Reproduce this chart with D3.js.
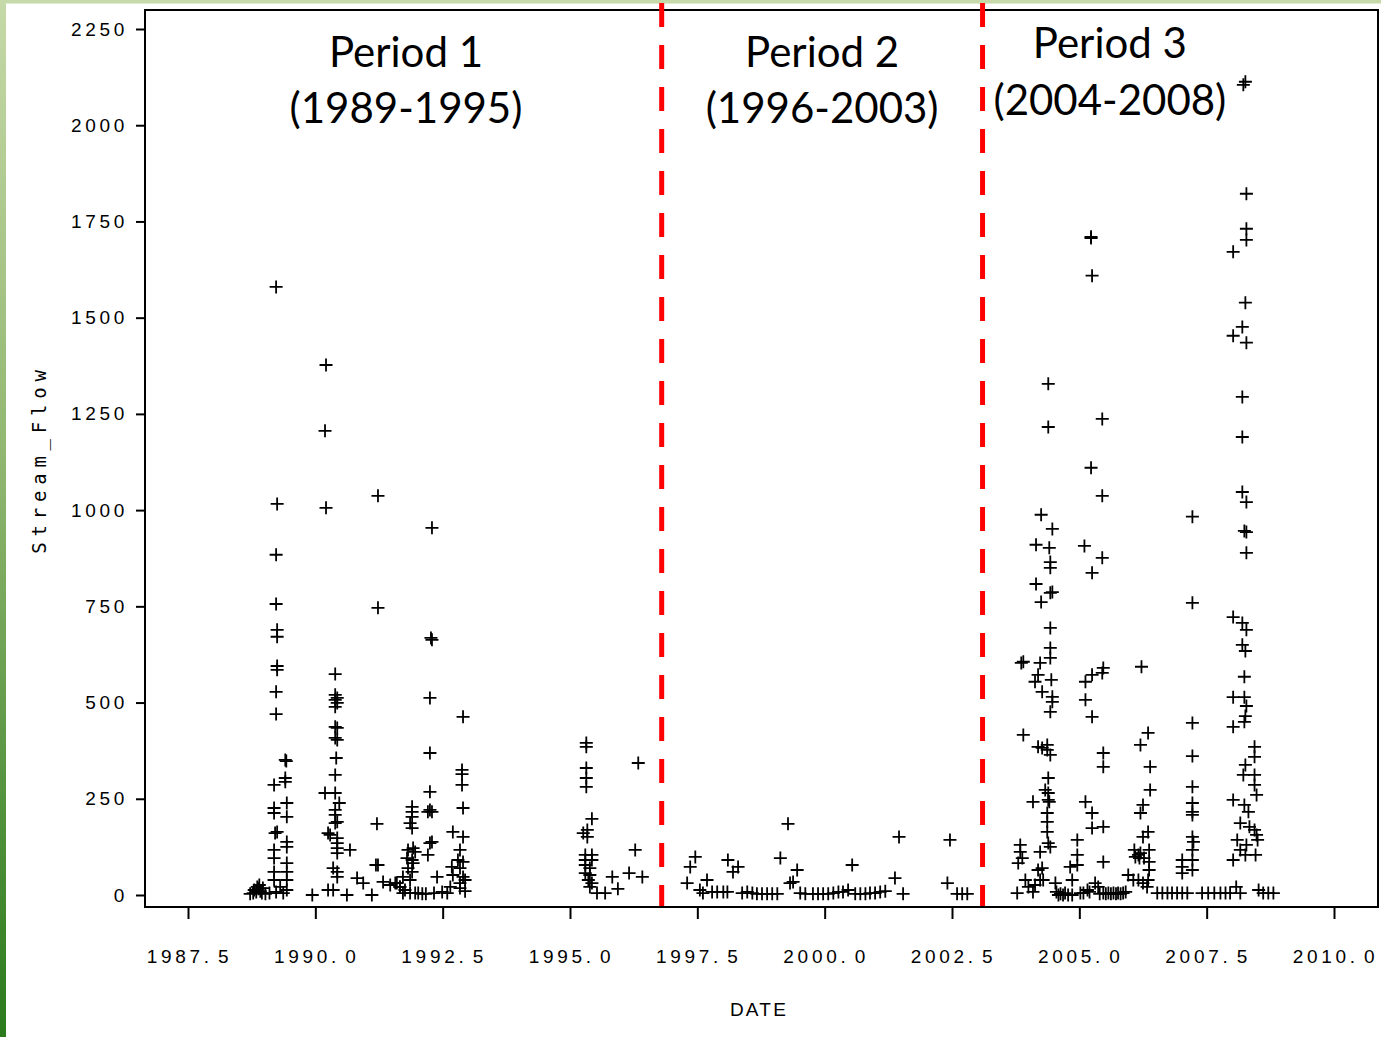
<!DOCTYPE html>
<html><head><meta charset="utf-8">
<script src="https://cdn.jsdelivr.net/npm/d3@7"></script>
<style>
html,body{margin:0;padding:0;background:#fff;}
svg{display:block;}
</style></head>
<body>
<script>
// ---- data ----
const xTicks = [1987.5, 1990.0, 1992.5, 1995.0, 1997.5, 2000.0, 2002.5, 2005.0, 2007.5, 2010.0];
const xTickLabels = ["1987.5","1990.0","1992.5","1995.0","1997.5","2000.0","2002.5","2005.0","2007.5","2010.0"];
const yTicks = [0, 250, 500, 750, 1000, 1250, 1500, 1750, 2000, 2250];
const periodBreaks = [1996.8, 2003.1];
const periodNames = ["Period 1", "Period 2", "Period 3"];
const periodYears = ["(1989-1995)", "(1996-2003)", "(2004-2008)"];
const periodCenters = [1991.78, 1999.95, 2005.6];

const period1Flow = [
 [1988.72,3],[1988.78,5],[1988.80,13],[1988.84,8],[1988.86,21],[1988.88,16],[1988.90,26],[1988.92,10],[1988.95,5],[1988.97,18],[1989.02,3],[1989.10,5],
 [1989.23,1580],[1989.25,1016],[1989.23,884],[1989.23,756],[1989.25,689],[1989.25,671],[1989.25,595],[1989.25,585],[1989.23,528],[1989.23,470],
 [1989.41,351],[1989.43,348],[1989.41,304],[1989.41,294],[1989.19,286],[1989.44,239],[1989.19,226],[1989.19,213],[1989.44,203],[1989.21,161],[1989.25,164],
 [1989.44,138],[1989.44,125],[1989.19,117],[1989.19,96],[1989.44,83],[1989.19,60],[1989.44,60],[1989.19,39],[1989.31,21],[1989.44,39],[1989.23,8],[1989.37,5],[1989.44,13],
 [1989.94,0],[1990.19,1206],[1990.21,1377],[1990.21,1006],[1990.39,574],[1990.39,520],[1990.43,512],[1990.39,507],[1990.43,499],[1990.39,489],
 [1990.39,437],[1990.43,434],[1990.39,408],[1990.43,403],[1990.41,356],[1990.39,312],[1990.19,265],[1990.39,265],[1990.47,239],[1990.39,221],[1990.39,208],
 [1990.43,190],[1990.39,187],[1990.25,161],[1990.29,156],[1990.43,148],[1990.43,135],[1990.43,122],[1990.43,109],[1990.68,117],[1990.35,70],[1990.43,60],
 [1990.43,47],[1990.25,13],[1990.35,13],[1990.62,0],
 [1991.23,1037],[1991.23,746],[1991.21,185],[1991.19,78],[1991.23,78],[1990.82,44],[1990.94,31],[1991.11,0],[1991.33,34],[1991.47,26],[1991.57,31],[1991.66,21],[1991.72,5],[1991.86,5],
 [1991.90,229],[1991.90,216],[1991.90,203],[1991.86,187],[1991.90,174],[1991.82,117],[1991.92,122],[1991.96,112],[1991.80,96],[1991.90,91],[1991.92,83],
 [1991.82,70],[1991.90,60],[1991.72,47],[1991.86,39],[1991.60,31],[1991.66,21],[1991.76,13],[1991.96,5],[1992.02,5],[1992.10,3],
 [1992.29,954],[1992.27,668],[1992.29,663],[1992.25,512],[1992.25,369],[1992.25,268],[1992.25,221],[1992.21,216],[1992.29,216],[1992.29,138],[1992.25,135],
 [1992.21,104],[1992.39,47],[1992.33,5],[1992.17,3],
 [1992.90,463],[1992.88,325],[1992.88,314],[1992.88,286],[1992.90,226],[1992.70,164],[1992.90,151],[1992.84,117],[1992.80,91],[1992.90,86],[1992.68,73],
 [1992.84,70],[1992.70,52],[1992.90,47],[1992.84,31],[1992.94,39],[1992.65,21],[1992.84,18],[1992.49,8],[1992.59,5],[1992.94,10],
 [1995.32,395],[1995.32,385],[1995.32,330],[1995.32,304],[1995.32,281],[1995.43,198],[1995.34,169],[1995.26,161],[1995.34,151],[1995.30,104],[1995.43,104],
 [1995.30,91],[1995.43,91],[1995.30,78],[1995.39,70],[1995.30,57],[1995.39,52],[1995.36,39],[1995.43,31],[1995.39,21],[1995.53,5],[1995.69,5],
 [1995.83,47],[1995.94,16],[1996.16,57],[1996.28,117],[1996.34,343],[1996.42,47]
];

const period2Flow = [
 [1997.30,31],[1997.36,73],[1997.46,99],[1997.55,13],[1997.61,5],[1997.69,39],[1997.79,8],[1997.89,8],[1998.01,8],[1998.09,8],[1998.10,91],[1998.20,60],
 [1998.30,73],[1998.38,5],[1998.48,8],[1998.58,5],[1998.67,3],[1998.77,3],[1998.87,3],[1998.97,3],[1999.07,3],[1999.13,96],[1999.28,185],[1999.32,31],
 [1999.38,34],[1999.46,65],[1999.52,5],[1999.62,3],[1999.77,3],[1999.87,3],[1999.97,3],[2000.07,3],[2000.17,5],[2000.27,8],[2000.36,8],[2000.46,13],
 [2000.54,78],[2000.60,3],[2000.70,3],[2000.80,3],[2000.89,5],[2000.99,5],[2001.09,8],[2001.19,10],[2001.38,44],[2001.46,151],[2001.54,3],
 [2002.41,31],[2002.46,143],[2002.60,3],[2002.70,3],[2002.80,3]
];

const period3Flow = [
 [2003.78,5],[2003.80,83],[2003.84,130],[2003.84,112],[2003.88,96],[2003.90,606],[2003.86,603],[2003.90,416],[2003.94,39],[2004.00,21],[2004.09,8],
 [2004.13,26],[2004.13,554],[2004.15,910],[2004.15,808],[2004.19,572],[2004.19,385],[2004.19,65],[2004.23,603],[2004.23,112],[2004.23,39],[2004.25,988],
 [2004.25,761],[2004.27,528],[2004.27,382],[2004.27,70],[2004.29,39],[2004.39,1216],[2004.37,390],[2004.37,377],[2004.37,213],[2004.37,190],[2004.37,164],
 [2004.39,1328],[2004.39,304],[2004.39,247],[2004.39,135],[2004.41,902],[2004.43,865],[2004.43,850],[2004.43,785],[2004.43,694],[2004.43,642],[2004.43,616],
 [2004.43,476],[2004.43,364],[2004.43,125],[2004.45,559],[2004.47,951],[2004.47,787],[2004.47,515],[2004.47,502],[2004.33,273],[2004.39,265],[2004.09,242],
 [2004.41,242],[2004.53,31],[2004.55,8],[2004.59,0],[2004.63,3],[2004.68,0],[2004.72,5],[2004.78,0],[2004.86,0],[2004.86,39],[2004.82,73],[2004.96,78],
 [2004.96,104],[2004.96,143],[2005.02,5],[2005.08,5],[2005.16,13],[2005.20,8],[2005.31,31],[2005.37,21],[2005.40,3],
 [2005.23,1710],[2005.23,1707],[2005.25,1609],[2005.45,1237],[2005.23,1110],[2005.45,1037],[2005.10,907],[2005.45,876],[2005.25,837],[2005.12,554],
 [2005.25,572],[2005.47,590],[2005.45,577],[2005.12,507],[2005.25,463],[2005.47,369],[2005.47,333],[2005.12,242],[2005.25,213],[2005.25,174],[2005.47,177],
 [2005.47,86],[2005.47,5],[2005.52,3],[2005.57,5],[2005.62,3],[2005.67,5],[2005.72,3],[2005.76,5],[2005.81,3],[2005.86,5],[2005.91,8],
 [2006.22,593],[2006.35,421],[2006.20,390],[2006.39,333],[2006.39,273],[2006.25,234],[2006.20,213],[2006.35,164],[2006.25,151],[2006.20,109],[2006.08,117],
 [2006.10,99],[2006.16,104],[2006.18,96],[2006.27,96],[2006.37,117],[2006.37,86],[2006.37,65],[2006.35,39],[2005.96,52],[2006.06,39],[2006.16,39],
 [2006.25,31],[2006.33,21],[2006.53,5],[2006.63,5],[2006.73,5],[2006.82,5],[2006.92,5],[2007.02,5],[2007.12,5],
 [2007.22,983],[2007.22,759],[2007.22,447],[2007.22,361],[2007.22,281],[2007.22,239],[2007.22,216],[2007.22,208],[2007.22,151],[2007.24,138],[2007.22,117],
 [2007.22,91],[2007.02,91],[2007.02,73],[2007.02,57],[2007.22,65],[2007.41,5],[2007.53,5],[2007.65,5],[2007.77,5],[2007.87,5],
 [2008.26,2113],[2008.22,2105],[2008.28,1822],[2008.28,1731],[2008.28,1702],[2008.02,1671],[2008.26,1539],[2008.20,1476],[2008.02,1453],[2008.28,1435],
 [2008.20,1294],[2008.20,1190],[2008.20,1047],[2008.28,1021],[2008.24,946],[2008.28,943],[2008.28,889],[2008.02,722],[2008.20,707],[2008.28,689],
 [2008.20,650],[2008.26,634],[2008.24,567],[2008.02,514],[2008.24,514],[2008.28,491],[2008.26,465],[2008.02,437],[2008.24,450],[2008.44,385],[2008.44,359],
 [2008.26,338],[2008.22,312],[2008.44,312],[2008.44,286],[2008.48,260],[2008.02,247],[2008.24,234],[2008.32,216],[2008.16,187],[2008.34,177],[2008.44,169],
 [2008.48,156],[2008.10,143],[2008.50,143],[2008.28,130],[2008.16,117],[2008.46,104],[2008.02,91],[2008.26,104],[2008.08,21],[2007.96,5],[2008.16,5],
 [2008.52,13],[2008.61,5],[2008.71,5],[2008.81,5]
];

// ---- layout ----
const W = 1381, H = 1037;
const frame = {left:145, right:1378, top:10, bottom:907};
const x = d3.scaleLinear().domain([1987.5, 2010]).range([188, 1334]);
const y = d3.scaleLinear().domain([0, 2250]).range([895, 29]);

const svg = d3.select("body").append("svg").attr("width", W).attr("height", H);
const defs = svg.append("defs");
const g = defs.append("linearGradient").attr("id","side").attr("x1",0).attr("y1",0).attr("x2",0).attr("y2",1);
g.append("stop").attr("offset","0%").attr("stop-color","#c6d9a8");
g.append("stop").attr("offset","45%").attr("stop-color","#8fb66f");
g.append("stop").attr("offset","100%").attr("stop-color","#2a7a1c");

svg.append("rect").attr("width",W).attr("height",H).attr("fill","#fff");
svg.append("rect").attr("x",0).attr("y",0).attr("width",W).attr("height",3.5).attr("fill","#c6d9a8");
svg.append("rect").attr("x",0).attr("y",0).attr("width",6).attr("height",H).attr("fill","url(#side)");

// frame
svg.append("rect").attr("x",frame.left).attr("y",frame.top)
  .attr("width",frame.right-frame.left).attr("height",frame.bottom-frame.top)
  .attr("fill","none").attr("stroke","#000").attr("stroke-width",2);

const monoFont = "'DejaVu Sans Mono', monospace";
const tickFont = "'Liberation Sans', Arial, sans-serif";

// y axis
const yAxis = svg.append("g").attr("transform",`translate(${frame.left},0)`)
  .call(d3.axisLeft(y).tickValues(yTicks).tickFormat(d3.format("d")).tickSize(9).tickSizeOuter(0).tickPadding(8));
yAxis.select(".domain").remove();
yAxis.selectAll(".tick line").attr("stroke","#000").attr("stroke-width",2);
yAxis.selectAll(".tick text").attr("fill","#000")
  .style("font-family",tickFont).style("font-size","19px").style("letter-spacing","3.7px");

// x axis
const xAxis = svg.append("g").attr("transform",`translate(0,${frame.bottom})`)
  .call(d3.axisBottom(x).tickValues(xTicks).tickFormat((d,i)=>xTickLabels[i]).tickSize(12).tickSizeOuter(0).tickPadding(31));
xAxis.select(".domain").remove();
xAxis.selectAll(".tick line").attr("stroke","#000").attr("stroke-width",2);
xAxis.selectAll(".tick text").attr("fill","#000").attr("dx","1px")
  .style("font-family",tickFont).style("font-size","19px").style("letter-spacing","3.7px")
  .each(function(d,i){
    // monospace-like cell after the decimal point
    const t = d3.select(this); const lab = xTickLabels[i];
    const k = lab.indexOf(".");
    t.text(null);
    t.append("tspan").text(lab.slice(0,k+1));
    t.append("tspan").attr("dx","5.3px").text(lab.slice(k+1));
  });

// axis titles
svg.append("text").attr("transform","translate(46,459) rotate(-90)")
  .attr("text-anchor","middle").attr("fill","#000")
  .style("font-family",monoFont).style("font-size","19px").style("letter-spacing","5.8px")
  .text("Stream_Flow");
svg.append("text").attr("x",759).attr("y",1016).attr("text-anchor","middle").attr("fill","#000")
  .style("font-family","'Liberation Sans', Arial, sans-serif").style("font-size","19px").style("letter-spacing","2.2px")
  .text("DATE");

// red dashed period breaks
svg.append("g").selectAll("line").data(periodBreaks).join("line")
  .attr("x1",d=>x(d)).attr("x2",d=>x(d)).attr("y1",3).attr("y2",906)
  .attr("stroke","#ff0000").attr("stroke-width",5).attr("stroke-dasharray","24,18");

// points
const allPts = [].concat(period1Flow, period2Flow, period3Flow);
const s = 6.5;
svg.append("g").selectAll("path").data(allPts).join("path")
  .attr("transform",d=>`translate(${x(d[0])},${y(d[1])})`)
  .attr("d",`M${-s},0H${s}M0,${-s}V${s}`)
  .attr("stroke","#000").attr("stroke-width",1.8).attr("fill","none");

// period labels
const labelFont = "Lato, 'Open Sans', sans-serif";
const lineY = [[67,123],[67,123],[58,115]];
periodNames.forEach((n,i)=>{
  const t = svg.append("g");
  t.append("text").attr("x",x(periodCenters[i])).attr("y",lineY[i][0]).attr("text-anchor","middle")
    .attr("fill","#000").style("font-family",labelFont).style("font-size","42px").text(n);
  t.append("text").attr("x",x(periodCenters[i])).attr("y",lineY[i][1]).attr("text-anchor","middle")
    .attr("fill","#000").style("font-family",labelFont).style("font-size","42px").text(periodYears[i]);
});
</script>
</body></html>
